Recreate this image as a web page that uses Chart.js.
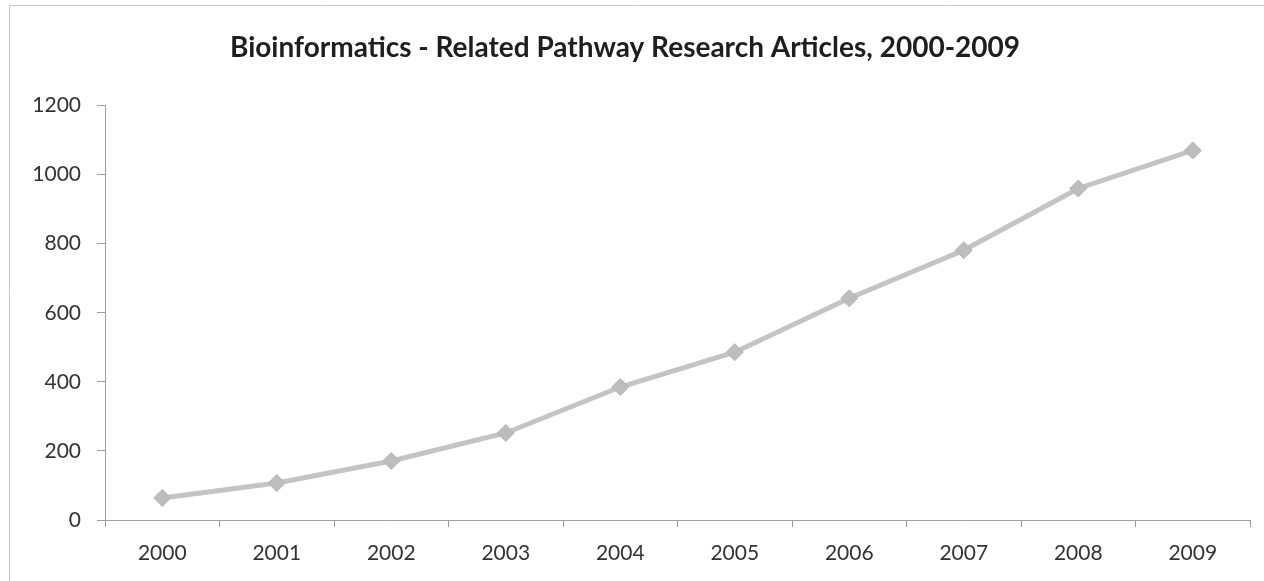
<!DOCTYPE html>
<html>
<head>
<meta charset="utf-8">
<script src="https://cdn.jsdelivr.net/npm/chart.js@4"></script>
<style>
  html, body { margin: 0; padding: 0; background: #fff; }
  #wrap { position: relative; width: 1264px; height: 581px; }
  canvas { display: block; }
</style>
</head>
<body>
<div id="wrap"><canvas id="c" width="1264" height="581"></canvas></div>
<script>
// Article counts per year
const years = ['2000', '2001', '2002', '2003', '2004', '2005', '2006', '2007', '2008', '2009'];
const articles = [64, 107, 171, 252, 385, 486, 642, 781, 960, 1070];
const yTicks = [0, 200, 400, 600, 800, 1000, 1200];
const chartTitle = 'Bioinformatics - Related Pathway Research Articles, 2000-2009';

// Thin outer frame along the left and top edges
const framePlugin = {
  id: 'frame',
  beforeDraw(chart) {
    const ctx = chart.ctx;
    ctx.save();
    ctx.strokeStyle = '#c8c8c8';
    ctx.lineWidth = 1;
    ctx.beginPath();
    ctx.moveTo(9.5, chart.height);
    ctx.lineTo(9.5, 5.5);
    ctx.lineTo(chart.width, 5.5);
    ctx.stroke();
    ctx.restore();
  }
};

new Chart(document.getElementById('c'), {
  type: 'line',
  data: {
    labels: years,
    datasets: [{
      data: articles,
      borderColor: '#c4c4c4',
      borderWidth: 5,
      pointStyle: 'rectRot',
      pointRadius: 8.5,
      pointBackgroundColor: '#bdbdbd',
      pointBorderColor: '#b6b6b6',
      pointBorderWidth: 1,
      tension: 0
    }]
  },
  options: {
    responsive: false,
    animation: false,
    layout: { padding: { left: 0, right: 14, top: 0, bottom: 0 } },
    plugins: {
      legend: { display: false },
      tooltip: { enabled: false },
      title: {
        display: true,
        text: chartTitle,
        color: '#1e1e1e',
        font: { family: 'Lato', size: 28, weight: 'bold' },
        padding: { top: 31, bottom: 41 }
      }
    },
    scales: {
      x: {
        offset: true,
        grid: {
          offset: true,
          drawOnChartArea: false,
          color: '#9a9a9a',
          tickLength: 7
        },
        border: { color: '#a0a0a0', width: 1 },
        ticks: {
          color: '#333',
          font: { family: 'Lato', size: 21 },
          padding: 14
        },
        afterFit(scale) { scale.height = 61; }
      },
      y: {
        min: 0,
        max: 1200,
        afterBuildTicks(scale) { scale.ticks = yTicks.map(v => ({ value: v })); },
        grid: {
          drawOnChartArea: false,
          color: '#a0a0a0',
          tickLength: 8
        },
        border: { color: '#a0a0a0', width: 1 },
        ticks: {
          color: '#333',
          font: { family: 'Lato', size: 21 },
          padding: 16,
          callback: (v) => String(v)
        },
        afterFit(scale) { scale.width = 105; }
      }
    }
  },
  plugins: [framePlugin]
});
</script>
</body>
</html>
